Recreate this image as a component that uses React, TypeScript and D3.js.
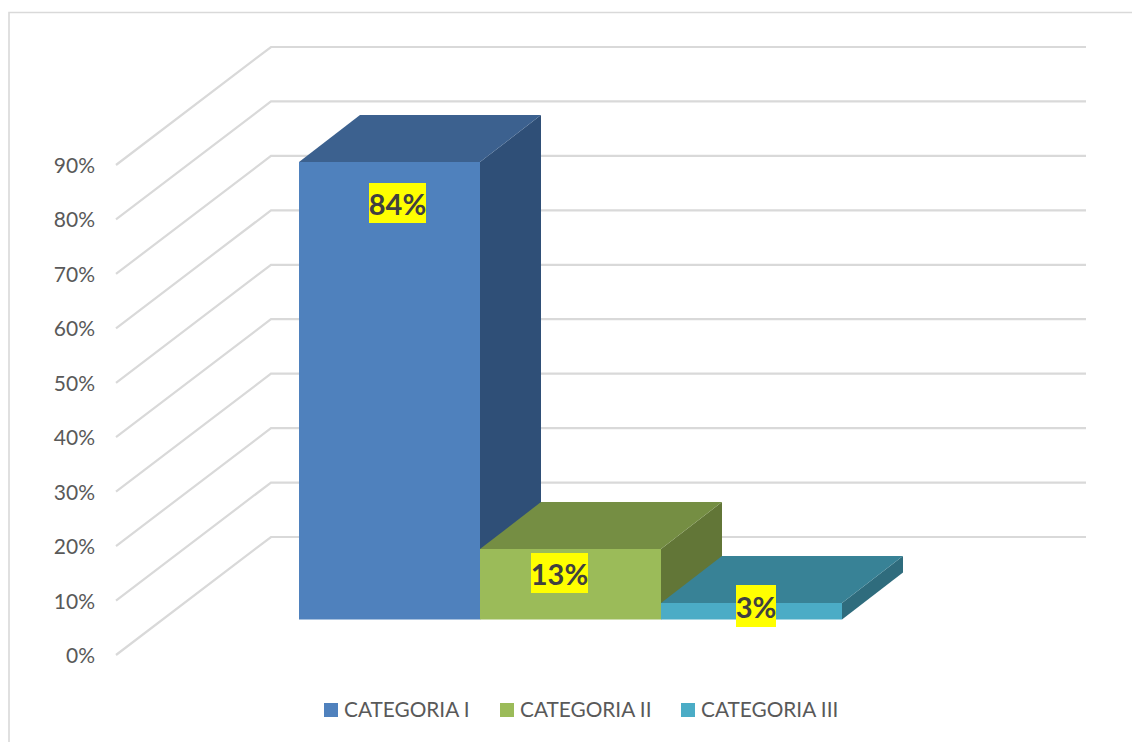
import React from "react";
import * as d3 from "d3";

const categories = ["CATEGORIA I", "CATEGORIA II", "CATEGORIA III"];
const values = [84, 13, 3];
const valueLabels = ["84%", "13%", "3%"];
const ticks = [0, 10, 20, 30, 40, 50, 60, 70, 80, 90];
const frontFaces = ["#4f81bd", "#9bbb59", "#4bacc6"];
const topFaces = ["#3c618f", "#758e43", "#388296"];
const sideFaces = ["#2f4f77", "#627637", "#2f6c7d"];
const legendX = [324, 500, 681];
const labelBox = [
  { x: 369, y: 183, w: 57, h: 40 },
  { x: 531, y: 553, w: 57, h: 40 },
  { x: 736, y: 585, w: 40, h: 42 },
];

const FONT = "Lato, 'Open Sans', sans-serif";
const W = 1132;
const H = 742;

export default function App() {
  const y = d3.scaleLinear().domain([0, 90]).range([655, 165]);
  const x = d3.scaleBand<string>().domain(categories).range([299, 842]).padding(0);
  const wallDx = 155;
  const wallDy = -118;
  const wallRight = 1086;
  const baseY = 619.5;
  const depthDx = 61;
  const depthDy = -47;
  const barH = (v: number) => y(0) - y(v);
  const poly = (pts: [number, number][]) => pts.map((p) => p.join(",")).join(" ");

  return (
    <svg width={W} height={H} style={{ position: "absolute", left: 0, top: 0 }} fontFamily={FONT}>
      <rect width={W} height={H} fill="#fff" />
      <path d={`M9,${H} V12.5 H${W}`} fill="none" stroke="#d9d9d9" strokeWidth={1.6} />
      {ticks.map((t) => (
        <g key={t}>
          <polyline
            points={poly([
              [116, y(t)],
              [116 + wallDx, y(t) + wallDy],
              [wallRight, y(t) + wallDy],
            ])}
            fill="none"
            stroke="#d9d9d9"
            strokeWidth={2.2}
          />
          <text x={95} y={y(t) + 8} textAnchor="end" fontSize={21} fill="#595959">
            {t}%
          </text>
        </g>
      ))}
      {categories.map((c, i) => {
        const x0 = x(c)!;
        const x1 = x0 + x.bandwidth();
        const top = Math.round(baseY - barH(values[i]));
        return (
          <g key={c}>
            <polygon
              points={poly([
                [x1, top],
                [x1 + depthDx, top + depthDy],
                [x1 + depthDx, baseY + depthDy],
                [x1, baseY],
              ])}
              fill={sideFaces[i]}
            />
            <polygon
              points={poly([
                [x0, top],
                [x0 + depthDx, top + depthDy],
                [x1 + depthDx, top + depthDy],
                [x1, top],
              ])}
              fill={topFaces[i]}
            />
            <rect x={x0} y={top} width={x.bandwidth()} height={baseY - top} fill={frontFaces[i]} />
          </g>
        );
      })}
      {categories.map((c, i) => (
        <g key={c}>
          <rect x={labelBox[i].x} y={labelBox[i].y} width={labelBox[i].w} height={labelBox[i].h} fill="#ffff00" />
          <text
            x={labelBox[i].x + labelBox[i].w / 2}
            y={labelBox[i].y + labelBox[i].h / 2 + 11.5}
            textAnchor="middle"
            fontSize={29}
            fontWeight={700}
            fill="#404040"
          >
            {valueLabels[i]}
          </text>
        </g>
      ))}
      {categories.map((c, i) => (
        <g key={c}>
          <rect x={legendX[i]} y={703} width={14} height={14} fill={frontFaces[i]} />
          <text x={legendX[i] + 20} y={717} fontSize={20.8} fill="#595959">
            {c}
          </text>
        </g>
      ))}
    </svg>
  );
}
